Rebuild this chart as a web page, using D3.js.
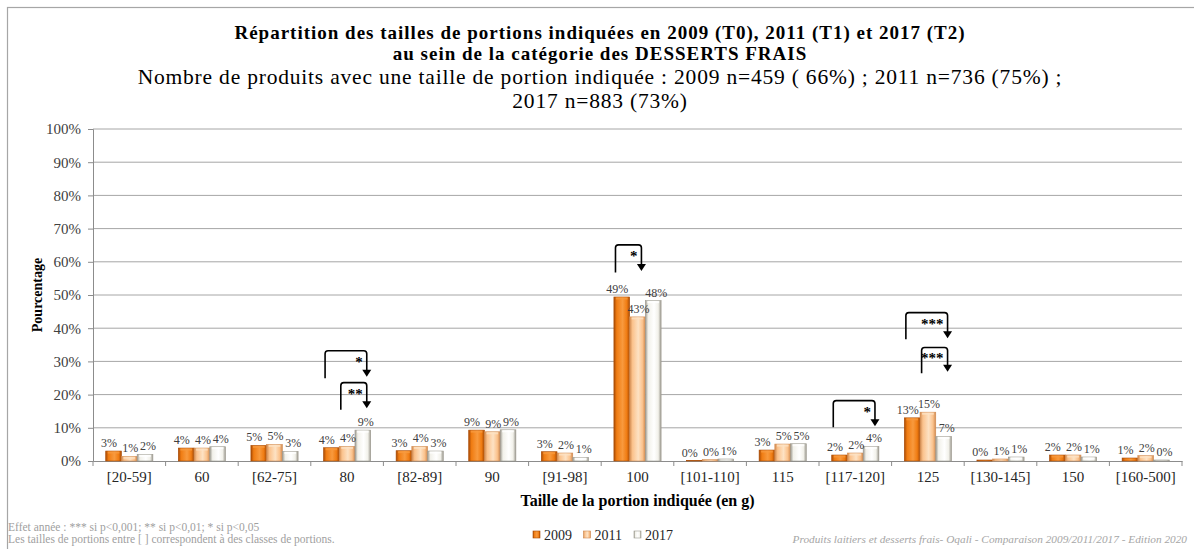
<!DOCTYPE html>
<html>
<head>
<meta charset="utf-8">
<script src="https://cdn.jsdelivr.net/npm/d3@7"></script>
<style>
  body { margin: 0; background: #fff; }
  svg { display: block; }
  text { font-family: "Liberation Serif", "DejaVu Serif", serif; }
</style>
</head>
<body>
<div id="chart"></div>
<script>
// data
var categories = ["[20-59]", "60", "[62-75]", "80", "[82-89]", "90", "[91-98]", "100",
                  "[101-110]", "115", "[117-120]", "125", "[130-145]", "150", "[160-500]"];
var years = ["2009", "2011", "2017"];
var v2009 = [3.0, 3.9, 4.7, 4.0, 3.1, 9.3, 2.8, 49.4, 0.1, 3.3, 1.8, 13.0, 0.3, 1.8, 0.9];
var v2011 = [1.4, 3.9, 5.0, 4.4, 4.4, 8.8, 2.4, 43.4, 0.4, 5.1, 2.4, 14.7, 0.6, 1.8, 1.6];
var v2017 = [2.0, 4.3, 2.9, 9.3, 3.0, 9.4, 1.1, 48.3, 0.6, 5.2, 4.4, 7.4, 1.2, 1.2, 0.3];
var yTicks = [0, 10, 20, 30, 40, 50, 60, 70, 80, 90, 100];

// significance brackets: category, from / to series, top level, leg foot, arrow tip (in %)
var tests = [
  {cat: "80",        from: 0, to: 2, top: 33.2, foot: 24.9, tip: 25.4, stars: "*"},
  {cat: "80",        from: 1, to: 2, top: 23.6, foot: 15.4, tip: 15.9, stars: "**"},
  {cat: "100",       from: 0, to: 1, top: 65.1, foot: 56.8, tip: 57.2, stars: "*"},
  {cat: "[117-120]", from: 0, to: 2, top: 18.2, foot: 10.2, tip: 10.5, stars: "*"},
  {cat: "125",       from: 0, to: 2, top: 44.7, foot: 36.7, tip: 37.0, stars: "***"},
  {cat: "125",       from: 1, to: 2, top: 34.2, foot: 26.4, tip: 26.9, stars: "***"}
];

function drawChart() {
  var W = 1194, H = 549;
  var pL = 93, pR = 1182, pT = 129, pB = 461;

  var values = [v2009, v2011, v2017];
  var rows = [];
  categories.forEach(function(c, i) {
    years.forEach(function(yr, s) {
      rows.push({cat: c, s: s, year: yr, v: values[s][i]});
    });
  });

  var svg = d3.select("#chart").append("svg")
    .attr("width", W).attr("height", H);

  svg.append("rect").attr("width", W).attr("height", H).attr("fill", "#fff");

  // chart frame
  svg.append("rect")
    .attr("x", 7.5).attr("y", 7.5)
    .attr("width", W).attr("height", H)
    .attr("fill", "none").attr("stroke", "#a6a6a6").attr("stroke-width", 1.2);

  // gradients for the bevelled bars
  var cols = [
    {edge: "#a84a04", mid: "#f07c12", hi: "#f89a3e"},
    {edge: "#d08a50", mid: "#fbc28c", hi: "#fde2c4"},
    {edge: "#9c998f", mid: "#f2f1ea", hi: "#ffffff"}
  ];
  var defs = svg.append("defs");
  cols.forEach(function(c, i) {
    var g = defs.append("linearGradient").attr("id", "g" + i)
      .attr("x1", 0).attr("x2", 1).attr("y1", 0).attr("y2", 0);
    g.append("stop").attr("offset", "0%").attr("stop-color", c.edge);
    g.append("stop").attr("offset", "18%").attr("stop-color", c.mid);
    g.append("stop").attr("offset", "55%").attr("stop-color", c.hi);
    g.append("stop").attr("offset", "82%").attr("stop-color", c.mid);
    g.append("stop").attr("offset", "100%").attr("stop-color", c.edge);
  });

  var xSlot = d3.scaleBand().domain(categories).range([pL, pR]);
  var x = d3.scaleBand().domain(categories).range([pL, pR])
    .paddingInner(0.35).paddingOuter(0.175);
  var x1 = d3.scaleBand().domain([0, 1, 2]).range([0, x.bandwidth()]);
  var y = d3.scaleLinear().domain([0, 100]).range([pB, pT]);

  // gridlines
  svg.append("g").selectAll("line")
    .data(yTicks.filter(function(d) { return d > 0; }))
    .enter().append("line")
      .attr("x1", pL).attr("x2", pR)
      .attr("y1", function(d) { return y(d); })
      .attr("y2", function(d) { return y(d); })
      .attr("stroke", "#a6a6a6").attr("stroke-width", 1);

  // y axis
  var yAxis = svg.append("g")
    .attr("transform", "translate(" + pL + ",0)")
    .call(d3.axisLeft(y).tickValues(yTicks).tickSize(5).tickPadding(7)
      .tickFormat(function(d) { return d + "%"; }));
  yAxis.select(".domain").attr("stroke", "#8c8c8c");
  yAxis.selectAll(".tick line").attr("stroke", "#8c8c8c");
  yAxis.selectAll("text")
    .attr("font-family", "Liberation Serif").attr("font-size", 15).attr("fill", "#404040");

  // x axis: labels at the centres, ticks at the slot edges
  var xAxis = svg.append("g")
    .attr("transform", "translate(0," + pB + ")")
    .call(d3.axisBottom(xSlot).tickSize(0).tickPadding(10));
  xAxis.select(".domain").attr("stroke", "#8c8c8c");
  xAxis.selectAll("text")
    .attr("font-family", "Liberation Serif").attr("font-size", 15).attr("fill", "#262626");

  svg.append("g").selectAll("line")
    .data(categories.concat(["end"]))
    .enter().append("line")
      .attr("x1", function(d) { return d == "end" ? pR : xSlot(d); })
      .attr("x2", function(d) { return d == "end" ? pR : xSlot(d); })
      .attr("y1", pB).attr("y2", pB + 5)
      .attr("stroke", "#8c8c8c");

  // bars
  var bars = svg.append("g").selectAll("g.bar")
    .data(rows)
    .enter().append("g").attr("class", "bar");

  bars.append("rect")
    .attr("x", function(d) { return x(d.cat) + x1(d.s); })
    .attr("y", function(d) { return y(d.v); })
    .attr("width", x1.bandwidth())
    .attr("height", function(d) { return pB - y(d.v); })
    .attr("fill", function(d) { return "url(#g" + d.s + ")"; })
    .attr("stroke", function(d) { return cols[d.s].edge; })
    .attr("stroke-width", 0.6);

  // light cap on top of each bar
  bars.filter(function(d) { return pB - y(d.v) > 3; })
    .append("rect")
    .attr("x", function(d) { return x(d.cat) + x1(d.s) + 2; })
    .attr("y", function(d) { return y(d.v) + 0.5; })
    .attr("width", x1.bandwidth() - 4)
    .attr("height", 2)
    .attr("fill", function(d) { return cols[d.s].hi; })
    .attr("opacity", 0.8);

  // value labels, spread a little like the original
  var shift = [-4.5, 1, 3];
  svg.append("g").selectAll("text")
    .data(rows)
    .enter().append("text")
      .attr("x", function(d) { return x(d.cat) + x1(d.s) + x1.bandwidth() / 2 + shift[d.s]; })
      .attr("y", function(d) { return y(d.v) - 4; })
      .attr("text-anchor", "middle")
      .attr("font-size", 12).attr("fill", "#404040")
      .text(function(d) { return Math.round(d.v) + "%"; });

  // significance brackets
  var bw = x1.bandwidth();
  var gTests = svg.append("g");
  tests.forEach(function(t) {
    var lx = x(t.cat) + x1(t.from) + bw * 0.1;
    var rx = x(t.cat) + x1(t.to) + bw * 0.75;
    var yt = y(t.top), yf = y(t.foot), yp = y(t.tip), r = 3;
    gTests.append("path")
      .attr("d", "M" + lx + "," + yf + "V" + (yt + r) +
                 "Q" + lx + "," + yt + " " + (lx + r) + "," + yt +
                 "H" + (rx - r) +
                 "Q" + rx + "," + yt + " " + rx + "," + (yt + r) +
                 "V" + (yp - 6))
      .attr("fill", "none").attr("stroke", "#000").attr("stroke-width", 1.6);
    gTests.append("path")
      .attr("d", "M" + (rx - 4.5) + "," + (yp - 7) + "L" + (rx + 4.5) + "," + (yp - 7) +
                 "L" + rx + "," + yp + "Z")
      .attr("fill", "#000");
    gTests.append("text")
      .attr("x", rx - 4).attr("y", yt + 16)
      .attr("text-anchor", "end")
      .attr("font-size", 15).attr("font-weight", "bold")
      .text(t.stars);
  });

  // titles
  var title = svg.append("g").attr("text-anchor", "middle").attr("fill", "#000");
  title.append("text").attr("x", 600).attr("y", 39)
    .attr("font-size", 19).attr("font-weight", "bold").attr("letter-spacing", 1.0)
    .text("Répartition des tailles de portions indiquées en 2009 (T0), 2011 (T1) et 2017 (T2)");
  title.append("text").attr("x", 600).attr("y", 60)
    .attr("font-size", 19).attr("font-weight", "bold").attr("letter-spacing", 1.0)
    .text("au sein de la catégorie des DESSERTS FRAIS");
  title.append("text").attr("x", 600).attr("y", 84)
    .attr("font-size", 21.5).attr("letter-spacing", 0.8)
    .text("Nombre de produits avec une taille de portion indiquée : 2009 n=459 ( 66%) ; 2011 n=736 (75%) ;");
  title.append("text").attr("x", 600).attr("y", 108)
    .attr("font-size", 21.5).attr("letter-spacing", 0.8)
    .text("2017 n=883 (73%)");

  // axis titles
  svg.append("text")
    .attr("transform", "translate(42," + ((pT + pB) / 2) + ") rotate(-90)")
    .attr("text-anchor", "middle")
    .attr("font-size", 14).attr("font-weight", "bold")
    .text("Pourcentage");

  svg.append("text")
    .attr("x", (pL + pR) / 2).attr("y", 506)
    .attr("text-anchor", "middle")
    .attr("font-size", 16).attr("font-weight", "bold")
    .text("Taille de la portion indiquée (en g)");

  // legend
  var legend = svg.append("g").attr("transform", "translate(533,535)");
  years.forEach(function(yr, i) {
    var g = legend.append("g").attr("transform", "translate(" + (i * 50.5) + ",0)");
    g.append("rect").attr("x", 0).attr("y", -4).attr("width", 7).attr("height", 7)
      .attr("fill", "url(#g" + i + ")").attr("stroke", cols[i].edge).attr("stroke-width", 0.6);
    g.append("text").attr("x", 11).attr("y", 5)
      .attr("font-size", 14).attr("fill", "#262626").text(yr);
  });

  // notes
  svg.append("text").attr("x", 8).attr("y", 531)
    .attr("font-size", 11.5).attr("fill", "#a0a0a0")
    .text("Effet année : *** si p<0,001; ** si p<0,01; * si p<0,05");
  svg.append("text").attr("x", 8).attr("y", 543)
    .attr("font-size", 11.5).attr("fill", "#a0a0a0")
    .text("Les tailles de portions entre [ ] correspondent à des classes de portions.");
  svg.append("text").attr("x", 1187).attr("y", 543)
    .attr("text-anchor", "end")
    .attr("font-size", 11.3).attr("font-style", "italic").attr("fill", "#a6a6a6")
    .text("Produits laitiers et desserts frais- Oqali - Comparaison 2009/2011/2017  - Edition 2020");
}

drawChart();
</script>
</body>
</html>
